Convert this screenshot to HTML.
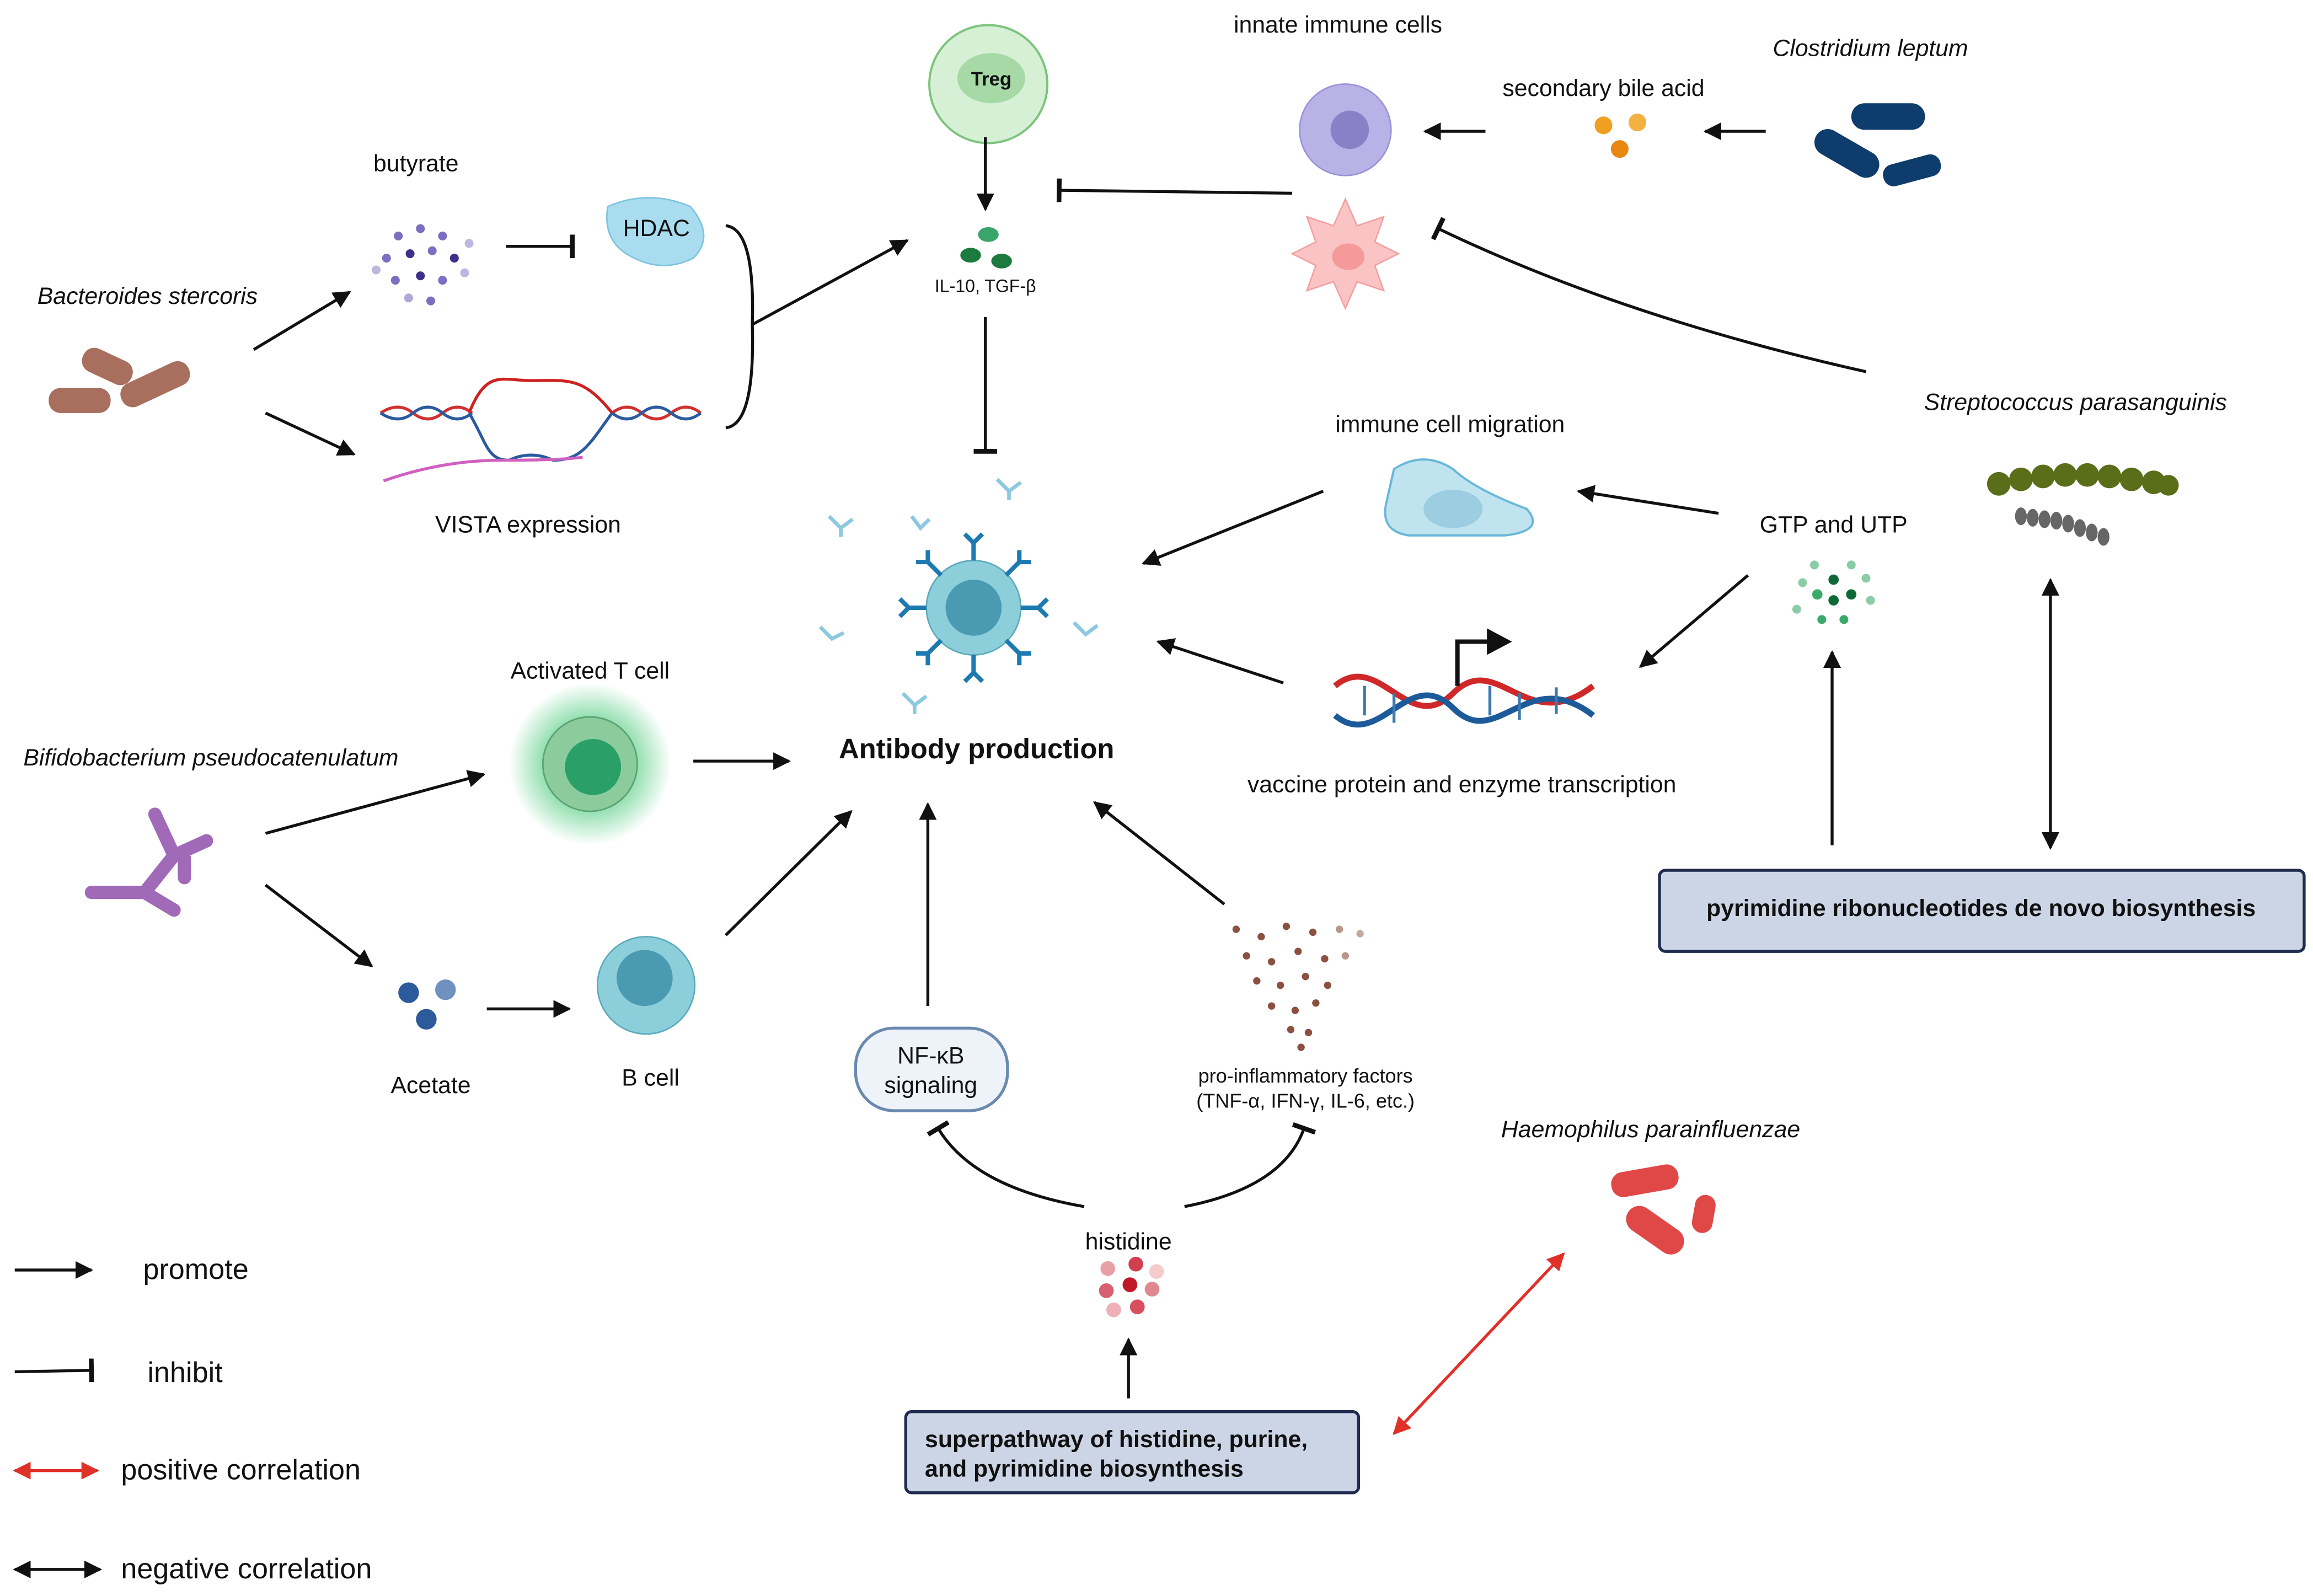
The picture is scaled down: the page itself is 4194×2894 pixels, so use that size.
<!DOCTYPE html>
<html><head><meta charset="utf-8"><style>
html,body{margin:0;padding:0;background:#fff;}
svg{display:block;}
text{font-family:"Liberation Sans",Arial,sans-serif;fill:#111;}
.l{font-size:16px;}
.i{font-size:16px;font-style:italic;}
.s{font-size:12px;}
.ln{stroke:#111;stroke-width:2;fill:none;}
</style></head><body>
<svg width="4194" height="2894" viewBox="0 0 1568 1082" preserveAspectRatio="none" xmlns="http://www.w3.org/2000/svg">
<defs>
<marker id="a" viewBox="0 0 10 10" refX="9" refY="5" markerWidth="6" markerHeight="6" orient="auto-start-reverse"><path d="M0,0L10,5L0,10z" fill="#111"/></marker>
<marker id="ar" viewBox="0 0 10 10" refX="9" refY="5" markerWidth="6" markerHeight="6" orient="auto-start-reverse"><path d="M0,0L10,5L0,10z" fill="#e0302a"/></marker>
<marker id="t" viewBox="0 0 4 20" refX="2" refY="10" markerWidth="2" markerHeight="8" orient="auto"><rect x="0" y="0" width="4" height="20" fill="#111"/></marker>
<radialGradient id="glow"><stop offset="0.5" stop-color="#5fd08a" stop-opacity="0.8"/><stop offset="1" stop-color="#5fd08a" stop-opacity="0"/></radialGradient>
</defs>
<rect width="1568" height="1082" fill="#fff"/>

<text class="l" x="907" y="22" text-anchor="middle">innate immune cells</text>
<text class="i" x="1268" y="38" text-anchor="middle">Clostridium leptum</text>
<text class="l" x="1087" y="65" text-anchor="middle">secondary bile acid</text>

<circle cx="670" cy="57" r="40" fill="#d6f0d6" stroke="#7cc47c" stroke-width="1.5"/>
<ellipse cx="672" cy="53" rx="23" ry="17" fill="#a6d9a6"/>
<text x="672" y="58" text-anchor="middle" font-size="13" font-weight="bold">Treg</text>
<line class="ln" x1="668" y1="93" x2="668" y2="142" marker-end="url(#a)"/>
<ellipse cx="670" cy="159" rx="7" ry="5" fill="#3aa56b"/>
<ellipse cx="658" cy="173" rx="7" ry="5" fill="#1c7a3e"/>
<ellipse cx="679" cy="177" rx="7" ry="5" fill="#1c7a3e"/>
<text class="s" x="668" y="198" text-anchor="middle">IL-10, TGF-β</text>
<line class="ln" x1="668" y1="215" x2="668" y2="306" marker-end="url(#t)"/>

<circle cx="912" cy="88" r="31" fill="#b8b2e6" stroke="#9a92d6"/>
<circle cx="915" cy="88" r="13" fill="#8a80c8"/>
<path d="M912,135 l8,18 l18,-6 l-6,17 l16,8 l-16,8 l6,17 l-18,-6 l-8,18 l-8,-18 l-18,6 l6,-17 l-16,-8 l16,-8 l-6,-17 l18,6z" fill="#fbc4c4" stroke="#f4a0a0"/>
<ellipse cx="914" cy="174" rx="11" ry="9" fill="#f49a9a"/>
<line class="ln" x1="1007" y1="89" x2="966" y2="89" marker-end="url(#a)"/>
<line class="ln" x1="1197" y1="89" x2="1156" y2="89" marker-end="url(#a)"/>
<circle cx="1087" cy="85" r="6" fill="#f0a020"/><circle cx="1110" cy="83" r="6" fill="#f4b040"/><circle cx="1098" cy="101" r="6" fill="#e88810"/>
<rect x="1255" y="70" width="50" height="18" rx="9" fill="#0e3c6c"/>
<rect x="1228" y="95" width="48" height="18" rx="9" fill="#0e3c6c" transform="rotate(30 1252 104)"/>
<rect x="1276" y="108" width="40" height="15" rx="7" fill="#0e3c6c" transform="rotate(-15 1296 115)"/>
<line class="ln" x1="876" y1="131" x2="718" y2="129" marker-end="url(#t)"/>
<path class="ln" d="M1265,252 Q1100,215 975,155" stroke-width="2.5" marker-end="url(#t)"/>

<text class="l" x="282" y="116" text-anchor="middle">butyrate</text>
<g fill="#7a6fc0">
<circle cx="270" cy="160" r="3"/><circle cx="285" cy="155" r="3"/><circle cx="300" cy="160" r="3"/><circle cx="262" cy="175" r="3"/><circle cx="278" cy="172" r="3" fill="#3d2f8a"/><circle cx="293" cy="170" r="3"/><circle cx="308" cy="175" r="3" fill="#3d2f8a"/><circle cx="268" cy="190" r="3"/><circle cx="285" cy="187" r="3" fill="#3d2f8a"/><circle cx="300" cy="190" r="3"/><circle cx="315" cy="185" r="3" opacity=".5"/><circle cx="277" cy="202" r="3" opacity=".6"/><circle cx="292" cy="204" r="3"/><circle cx="255" cy="183" r="3" opacity=".5"/><circle cx="318" cy="165" r="3" opacity=".5"/>
</g>
<line class="ln" x1="343" y1="167" x2="388" y2="167" marker-end="url(#t)"/>
<path d="M412,140 Q440,128 468,140 Q485,160 470,175 Q450,185 430,175 Q408,165 412,140z" fill="#a9dcef" stroke="#7cc3e0"/>
<text class="l" x="445" y="160" text-anchor="middle">HDAC</text>
<path class="ln" d="M492,153 Q512,155 510,220 Q512,288 492,290"/>
<line class="ln" x1="510" y1="220" x2="615" y2="163" marker-end="url(#a)"/>
<text class="i" x="100" y="206" text-anchor="middle">Bacteroides stercoris</text>
<rect x="55" y="240" width="36" height="17" rx="8" fill="#a86e5e" transform="rotate(25 73 248)"/>
<rect x="33" y="263" width="42" height="17" rx="8" fill="#a86e5e"/>
<rect x="80" y="252" width="50" height="17" rx="8" fill="#a86e5e" transform="rotate(-25 105 260)"/>
<line class="ln" x1="172" y1="237" x2="237" y2="198" marker-end="url(#a)"/>
<line class="ln" x1="180" y1="280" x2="240" y2="308" marker-end="url(#a)"/>
<path d="M258,280 Q270,272 280,280 T300,280 T320,280" stroke="#d03030" stroke-width="2" fill="none"/>
<path d="M258,280 Q270,288 280,280 T300,280 T320,280" stroke="#2a5aa0" stroke-width="2" fill="none"/>
<path d="M415,280 Q425,272 435,280 T455,280 T475,280" stroke="#d03030" stroke-width="2" fill="none"/>
<path d="M415,280 Q425,288 435,280 T455,280 T475,280" stroke="#2a5aa0" stroke-width="2" fill="none"/>
<path d="M318,280 C330,250 340,258 360,258 C385,258 395,255 415,280" stroke="#d02020" stroke-width="2" fill="none"/>
<path d="M318,280 C330,300 330,312 345,312 Q360,305 375,312 C395,312 400,300 415,280" stroke="#2a5aa0" stroke-width="2" fill="none"/>
<path d="M260,326 Q300,312 340,312 T395,310" stroke="#d060c0" stroke-width="2" fill="none"/>
<text class="l" x="358" y="361" text-anchor="middle">VISTA expression</text>

<circle cx="660" cy="412" r="32" fill="#8ccfda" stroke="#5aaabb"/>
<circle cx="660" cy="412" r="19" fill="#4a9ab2"/>
<g stroke="#1d7ab0" stroke-width="3" fill="none">
<path d="M660,380 v-12 m0,0 l-6,-6 m6,6 l6,-6"/><path d="M660,444 v12 m0,0 l-6,6 m6,-6 l6,6"/>
<path d="M628,412 h-12 m0,0 l-6,-6 m6,6 l-6,6"/><path d="M692,412 h12 m0,0 l6,-6 m-6,6 l6,6"/>
<path d="M638,390 l-9,-9 l-8,0 m8,0 l0,-8"/><path d="M682,390 l9,-9 l8,0 m-8,0 l0,-8"/>
<path d="M638,434 l-9,9 l-8,0 m8,0 l0,8"/><path d="M682,434 l9,9 l8,0 m-8,0 l0,8"/>
</g>
<g stroke="#8cc8e0" stroke-width="2.5" fill="none">
<path d="M562,350 l8,8 l8,-6 m-8,6 v6"/><path d="M618,350 l6,8 l6,-6"/><path d="M676,325 l8,8 l8,-6 m-8,6 v6"/><path d="M556,425 l8,8 l8,-4"/><path d="M728,422 l8,8 l8,-6"/><path d="M612,470 l8,8 l8,-6 m-8,6 v6"/>
</g>
<text x="662" y="514" text-anchor="middle" font-size="19" font-weight="bold">Antibody production</text>

<text class="l" x="983" y="293" text-anchor="middle">immune cell migration</text>
<path d="M945,318 Q965,305 985,318 Q1000,332 1035,345 Q1048,360 1020,363 L955,363 Q935,360 940,340 Z" fill="#bfe4f0" stroke="#6ab8d8" stroke-width="1.5"/>
<ellipse cx="985" cy="345" rx="20" ry="13" fill="#9ccde0"/>
<line class="ln" x1="897" y1="333" x2="775" y2="382" marker-end="url(#a)"/>
<line class="ln" x1="870" y1="463" x2="785" y2="435" marker-end="url(#a)"/>
<text class="l" x="1243" y="361" text-anchor="middle">GTP and UTP</text>
<g fill="#3aaa6a"><circle cx="1243" cy="393" r="3.5" fill="#0d6a36"/><circle cx="1232" cy="403" r="3.5"/><circle cx="1255" cy="403" r="3.5" fill="#0d6a36"/><circle cx="1243" cy="407" r="3.5" fill="#0d6a36"/><circle cx="1222" cy="395" r="3" opacity=".6"/><circle cx="1265" cy="392" r="3" opacity=".6"/><circle cx="1230" cy="383" r="3" opacity=".6"/><circle cx="1255" cy="383" r="3" opacity=".6"/><circle cx="1218" cy="413" r="3" opacity=".6"/><circle cx="1268" cy="407" r="3" opacity=".6"/><circle cx="1235" cy="420" r="3"/><circle cx="1250" cy="420" r="3"/></g>
<line class="ln" x1="1165" y1="348" x2="1070" y2="333" marker-end="url(#a)"/>
<line class="ln" x1="1185" y1="390" x2="1112" y2="452" marker-end="url(#a)"/>
<g stroke-width="4" fill="none">
<path d="M905,465 C935,440 955,500 985,470 C1015,440 1035,500 1080,465" stroke="#d02828"/>
<path d="M905,485 C935,510 955,450 985,480 C1015,510 1035,450 1080,485" stroke="#1d5a9a"/>
</g>
<g stroke="#3a7ab0" stroke-width="2"><line x1="925" y1="465" x2="925" y2="485"/><line x1="945" y1="470" x2="945" y2="490"/><line x1="1010" y1="465" x2="1010" y2="485"/><line x1="1030" y1="470" x2="1030" y2="488"/><line x1="1055" y1="466" x2="1055" y2="484"/></g>
<path d="M988,465 V435 H1010" stroke="#111" stroke-width="3" fill="none"/>
<path d="M1008,426 L1025,435 L1008,444z" fill="#111"/>
<text class="l" x="991" y="537" text-anchor="middle">vaccine protein and enzyme transcription</text>

<text class="i" x="1407" y="278" text-anchor="middle">Streptococcus parasanguinis</text>
<g fill="#5a6e1a"><circle cx="1355" cy="328" r="8"/><circle cx="1370" cy="325" r="8"/><circle cx="1385" cy="323" r="8"/><circle cx="1400" cy="322" r="8"/><circle cx="1415" cy="322" r="8"/><circle cx="1430" cy="323" r="8"/><circle cx="1445" cy="325" r="8"/><circle cx="1460" cy="327" r="8"/><circle cx="1470" cy="329" r="7"/></g>
<g fill="#666"><ellipse cx="1370" cy="350" rx="4" ry="6"/><ellipse cx="1378" cy="351" rx="4" ry="6"/><ellipse cx="1386" cy="352" rx="4" ry="6"/><ellipse cx="1394" cy="353" rx="4" ry="6"/><ellipse cx="1402" cy="355" rx="4" ry="6"/><ellipse cx="1410" cy="358" rx="4" ry="6"/><ellipse cx="1418" cy="361" rx="4" ry="6"/><ellipse cx="1426" cy="364" rx="4" ry="6"/></g>
<line class="ln" x1="1390" y1="393" x2="1390" y2="575" marker-start="url(#a)" marker-end="url(#a)"/>
<line class="ln" x1="1242" y1="573" x2="1242" y2="442" marker-end="url(#a)"/>
<rect x="1125" y="590" width="437" height="55" rx="4" fill="#ccd5e6" stroke="#1f2c4f" stroke-width="2"/>
<text x="1343" y="621" text-anchor="middle" font-size="16" font-weight="bold">pyrimidine ribonucleotides de novo biosynthesis</text>

<text class="l" x="400" y="460" text-anchor="middle">Activated T cell</text>
<circle cx="400" cy="518" r="55" fill="url(#glow)"/>
<circle cx="400" cy="518" r="32" fill="#8ccc9c" stroke="#5aa070"/>
<circle cx="402" cy="520" r="19" fill="#2aa068"/>
<text class="i" x="143" y="519" text-anchor="middle">Bifidobacterium pseudocatenulatum</text>
<g stroke="#a06ab8" stroke-width="9" stroke-linecap="round" fill="none">
<path d="M105,552 L118,580 L98,605 L62,605"/><path d="M118,580 L140,570"/><path d="M98,605 L118,617"/><path d="M125,582 L125,595"/>
</g>
<line class="ln" x1="180" y1="565" x2="328" y2="525" marker-end="url(#a)"/>
<line class="ln" x1="470" y1="516" x2="535" y2="516" marker-end="url(#a)"/>
<line class="ln" x1="180" y1="600" x2="252" y2="655" marker-end="url(#a)"/>
<line class="ln" x1="330" y1="684" x2="386" y2="684" marker-end="url(#a)"/>
<line class="ln" x1="492" y1="634" x2="577" y2="550" marker-end="url(#a)"/>
<circle cx="277" cy="673" r="7" fill="#2d5a9a"/><circle cx="302" cy="671" r="7" fill="#7090c0"/><circle cx="289" cy="691" r="7" fill="#2d5a9a"/>
<text class="l" x="292" y="741" text-anchor="middle">Acetate</text>
<circle cx="438" cy="668" r="33" fill="#8ccfda" stroke="#5aaabb"/>
<circle cx="437" cy="663" r="19" fill="#4a9ab2"/>
<text class="l" x="441" y="736" text-anchor="middle">B cell</text>

<rect x="580" y="697" width="103" height="56" rx="26" fill="#eef3fa" stroke="#6a8ab0" stroke-width="2"/>
<text class="l" x="631" y="721" text-anchor="middle">NF-κB</text>
<text class="l" x="631" y="741" text-anchor="middle">signaling</text>
<line class="ln" x1="629" y1="682" x2="629" y2="545" marker-end="url(#a)"/>
<g fill="#8a5040">
<circle cx="838" cy="630" r="2.5"/><circle cx="855" cy="635" r="2.5"/><circle cx="872" cy="628" r="2.5"/><circle cx="890" cy="632" r="2.5"/><circle cx="908" cy="630" r="2.5" opacity=".6"/><circle cx="922" cy="633" r="2.5" opacity=".5"/>
<circle cx="845" cy="648" r="2.5"/><circle cx="862" cy="652" r="2.5"/><circle cx="880" cy="645" r="2.5"/><circle cx="898" cy="650" r="2.5"/><circle cx="912" cy="648" r="2.5" opacity=".6"/>
<circle cx="852" cy="665" r="2.5"/><circle cx="868" cy="668" r="2.5"/><circle cx="885" cy="662" r="2.5"/><circle cx="900" cy="668" r="2.5"/>
<circle cx="862" cy="682" r="2.5"/><circle cx="878" cy="685" r="2.5"/><circle cx="892" cy="680" r="2.5"/>
<circle cx="875" cy="698" r="2.5"/><circle cx="887" cy="700" r="2.5"/><circle cx="882" cy="710" r="2.5"/>
</g>
<text x="885" y="734" text-anchor="middle" font-size="13.5">pro-inflammatory factors</text>
<text x="885" y="751" text-anchor="middle" font-size="13.5">(TNF-α, IFN-γ, IL-6, etc.)</text>
<line class="ln" x1="830" y1="613" x2="742" y2="544" marker-end="url(#a)"/>

<text class="l" x="765" y="847" text-anchor="middle">histidine</text>
<g><circle cx="751" cy="860" r="5" fill="#e8a0a8"/><circle cx="770" cy="857" r="5" fill="#d04050"/><circle cx="784" cy="862" r="5" fill="#f4cccc"/><circle cx="750" cy="875" r="5" fill="#d86070"/><circle cx="766" cy="871" r="5" fill="#c01828"/><circle cx="781" cy="874" r="5" fill="#e08890"/><circle cx="755" cy="888" r="5" fill="#f0b0b8"/><circle cx="771" cy="886" r="5" fill="#d85060"/></g>
<path class="ln" d="M735,818 Q660,805 636,765" marker-end="url(#t)"/>
<path class="ln" d="M803,818 Q870,805 884,765" marker-end="url(#t)"/>
<line class="ln" x1="765" y1="948" x2="765" y2="908" marker-end="url(#a)"/>
<rect x="614" y="957" width="307" height="55" rx="4" fill="#ccd5e6" stroke="#1f2c4f" stroke-width="2"/>
<text x="627" y="981" font-size="16" font-weight="bold">superpathway of histidine, purine,</text>
<text x="627" y="1001" font-size="16" font-weight="bold">and pyrimidine biosynthesis</text>

<text class="i" x="1119" y="771" text-anchor="middle">Haemophilus parainfluenzae</text>
<rect x="1092" y="792" width="46" height="17" rx="8" fill="#e04848" transform="rotate(-10 1115 800)"/>
<rect x="1100" y="825" width="44" height="18" rx="9" fill="#e04848" transform="rotate(35 1122 834)"/>
<rect x="1148" y="810" width="14" height="26" rx="7" fill="#e04848" transform="rotate(10 1155 823)"/>
<line x1="945" y1="972" x2="1060" y2="850" stroke="#e0302a" stroke-width="2" marker-start="url(#ar)" marker-end="url(#ar)"/>

<line class="ln" x1="10" y1="861" x2="62" y2="861" marker-end="url(#a)"/>
<text x="97" y="867" font-size="19.5">promote</text>
<line class="ln" x1="10" y1="930" x2="62" y2="929" marker-end="url(#t)"/>
<text x="100" y="937" font-size="19.5">inhibit</text>
<line x1="10" y1="997" x2="66" y2="997" stroke="#e0302a" stroke-width="2" marker-start="url(#ar)" marker-end="url(#ar)"/>
<text x="82" y="1003" font-size="19.5">positive correlation</text>
<line class="ln" x1="10" y1="1064" x2="68" y2="1064" marker-start="url(#a)" marker-end="url(#a)"/>
<text x="82" y="1070" font-size="19.5">negative correlation</text>
</svg>
</body></html>
